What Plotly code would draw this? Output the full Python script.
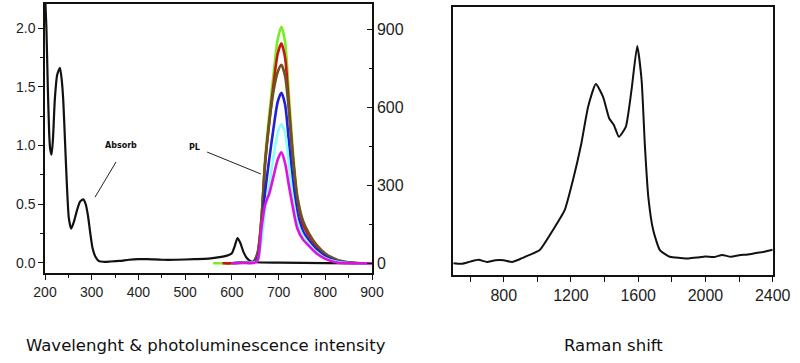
import plotly.graph_objects as go

# ---------------- data ----------------
abs_nm = [200, 203, 206, 209, 211, 214, 217, 221, 226, 232, 236, 239, 243, 247, 251, 256,
          262, 268, 275, 282, 287, 292, 297, 302, 308, 315, 325, 340, 360, 380, 400, 420,
          450, 480, 520, 550, 570, 590, 600, 606, 612, 618, 625, 632, 640, 650, 700, 800, 900]
abs_val = [2.3, 2.0, 1.5, 1.1, 0.97, 0.92, 1.05, 1.39, 1.6, 1.66, 1.55, 1.39, 1.02, 0.65, 0.38, 0.29,
           0.35, 0.44, 0.52, 0.54, 0.5, 0.4, 0.25, 0.12, 0.05, 0.015, 0.008, 0.01, 0.015, 0.025, 0.03, 0.03,
           0.025, 0.025, 0.03, 0.035, 0.045, 0.06, 0.08, 0.14, 0.21, 0.17, 0.09, 0.04, 0.012, 0.004, 0.0, -0.003, -0.005]

pl_nm = [560, 580, 600, 630, 645, 655, 663, 671, 680, 690, 698, 706, 714, 722, 730, 740,
         752, 765, 780, 800, 825, 850, 875, 900]
pl_green = [0, 0, 0, 5, 5, 40, 170, 400, 570, 740, 860, 910, 850, 650, 450, 260,
            160, 110, 70, 35, 12, 3, 0, 0]
pl_red = [None, 0, 0, 4, 4, 38, 160, 380, 545, 700, 805, 846, 790, 610, 420, 245,
          150, 105, 66, 33, 11, 3, 0, 0]
pl_brown = [None, None, 0, 4, 4, 36, 160, 380, 540, 670, 735, 763, 720, 590, 420, 258,
            165, 115, 74, 38, 14, 4, 0, 0]
pl_blue = [None, None, 0, 3, 3, 20, 110, 270, 400, 530, 620, 656, 610, 470, 320, 195,
           125, 88, 55, 27, 8, 2, 0, 0]
pl_cyan = [None, None, 0, 2, 2, 10, 80, 200, 300, 420, 500, 536, 500, 380, 260, 160,
           105, 75, 45, 20, 6, 1, 0, 0]
pl_magenta = [None, None, 0, 1, 1, 10, 130, 225, 268, 340, 398, 427, 385, 300, 220, 135,
              92, 67, 40, 17, 3, 0, 0, 0]

raman_x = [500, 550, 600, 650, 700, 750, 800, 850, 895, 950, 1014, 1093, 1163, 1212, 1262,
           1302, 1348, 1391, 1427, 1455, 1485, 1526, 1560, 1594, 1620, 1640, 1660, 1689,
           1729, 1788, 1850, 1900, 1950, 2000, 2050, 2100, 2150, 2200, 2250, 2300, 2350, 2400]
raman_y = [4.5, 4.3, 5.1, 5.8, 5.0, 5.6, 5.6, 5.0, 6.0, 7.5, 9.4, 16.9, 24.4, 35.6, 49.3,
           62.9, 71.4, 66.6, 58.6, 56.1, 51.7, 55.4, 69.1, 85.6, 72.9, 48.0, 29.3, 16.9,
           9.4, 6.9, 6.5, 6.3, 6.6, 7.0, 6.8, 7.6, 6.9, 7.5, 7.8, 8.3, 8.8, 9.5]

left_ticks = [200, 300, 400, 500, 600, 700, 800, 900]
abs_ticks = [0.0, 0.5, 1.0, 1.5, 2.0]
pl_ticks = [0, 300, 600, 900]
raman_ticks = [800, 1200, 1600, 2000, 2400]

pl_series = [
    ("green", pl_green, "#77ee22"),
    ("red", pl_red, "#c81414"),
    ("brown", pl_brown, "#6e5420"),
    ("blue", pl_blue, "#2020d8"),
    ("cyan", pl_cyan, "#88ffff"),
    ("magenta", pl_magenta, "#e010e0"),
]

# ---------------- figure ----------------
fig = go.Figure()

for name, vals, col in pl_series:
    fig.add_trace(go.Scatter(x=pl_nm, y=vals, mode="lines", name=name,
                             line=dict(color=col, width=2.6, shape="spline", smoothing=0.7),
                             xaxis="x", yaxis="y2", connectgaps=False))

fig.add_trace(go.Scatter(x=abs_nm, y=abs_val, mode="lines", name="Absorb",
                         line=dict(color="#111111", width=2.2, shape="spline", smoothing=0.6),
                         xaxis="x", yaxis="y"))

fig.add_trace(go.Scatter(x=raman_x, y=raman_y, mode="lines", name="Raman",
                         line=dict(color="#111111", width=2.0, shape="spline", smoothing=0.5),
                         xaxis="x3", yaxis="y3"))

tickfont = dict(family="Liberation Sans, Arial, sans-serif", size=14, color="#1e1e1e")
tickfont_r = dict(family="Liberation Sans, Arial, sans-serif", size=16, color="#1e1e1e")
H = 363.0

def py(p):
    return 1 - p / H

fig.update_layout(
    width=800, height=363,
    margin=dict(l=0, r=0, t=0, b=0, autoexpand=False),
    paper_bgcolor="white", plot_bgcolor="white",
    showlegend=False,
    xaxis=dict(domain=[45 / 800, 372 / 800], range=[200, 900], tickvals=left_ticks,
               ticks="outside", ticklen=5, tickwidth=1.3, tickcolor="#111",
               minor=dict(ticks="outside", ticklen=3, dtick=50, tickcolor="#111"),
               showline=True, linecolor="#111", linewidth=1.5, mirror=True,
               showgrid=False, zeroline=False, tickfont=tickfont, anchor="y",
               automargin=False),
    yaxis=dict(domain=[py(273), py(4)], range=[-0.0878, 2.2045], tickvals=abs_ticks,
               tickformat=".1f", ticks="outside", ticklen=5, tickwidth=1.3, tickcolor="#111",
               minor=dict(ticks="outside", ticklen=3, dtick=0.25, tickcolor="#111"),
               showline=True, linecolor="#111", linewidth=1.5, mirror=False,
               showgrid=False, zeroline=False, tickfont=tickfont, anchor="x",
               automargin=False),
    yaxis2=dict(overlaying="y", side="right", range=[-37.3, 997.3], tickvals=pl_ticks,
                ticks="inside", ticklen=5, tickwidth=1.3, tickcolor="#111",
                minor=dict(ticks="inside", ticklen=3, dtick=150, tickcolor="#111"),
                showline=True, linecolor="#111", linewidth=1.5,
                showgrid=False, zeroline=False, tickfont=tickfont_r, anchor="x",
                automargin=False),
    xaxis3=dict(domain=[453.3 / 800, 772.7 / 800], range=[500, 2400], tickvals=raman_ticks,
                ticks="outside", ticklen=5, tickwidth=1.3, tickcolor="#111",
                minor=dict(ticks="outside", ticklen=5, dtick=200, tickcolor="#111"),
                showline=True, linecolor="#111", linewidth=1.5, mirror=True,
                showgrid=False, zeroline=False, tickfont=tickfont_r, anchor="y3",
                automargin=False),
    yaxis3=dict(domain=[py(275.3), py(7.3)], range=[0, 100], showticklabels=False,
                ticks="", showline=True, linecolor="#111", linewidth=1.5, mirror=True,
                showgrid=False, zeroline=False, anchor="x3", automargin=False),
)

# pointer lines for the labels
fig.add_shape(type="line", xref="x", yref="y", x0=352, y0=0.858, x1=307, y1=0.558,
              line=dict(color="#222", width=1))
fig.add_shape(type="line", xref="x", yref="y", x0=547, y0=0.943, x1=662, y1=0.756,
              line=dict(color="#222", width=1))

labfont = dict(family="DejaVu Sans, Verdana, sans-serif", size=8, color="#111")
fig.add_annotation(x=363, y=0.995, xref="x", yref="y", text="<b>Absorb</b>",
                   showarrow=False, font=labfont, xanchor="center", yanchor="middle")
fig.add_annotation(x=519, y=0.978, xref="x", yref="y", text="<b>PL</b>",
                   showarrow=False, font=labfont, xanchor="center", yanchor="middle")

capfont = dict(family="DejaVu Sans, Verdana, sans-serif", size=16.5, color="#111")
fig.add_annotation(x=206 / 800, y=py(345), xref="paper", yref="paper",
                   text="Wavelenght &amp; photoluminescence intensity",
                   showarrow=False, font=capfont, xanchor="center", yanchor="middle")
fig.add_annotation(x=613 / 800, y=py(345), xref="paper", yref="paper",
                   text="Raman shift", showarrow=False, font=capfont,
                   xanchor="center", yanchor="middle")

fig.write_html("out.html", config={"displayModeBar": False})

# remove the default page margin so the figure sits at the window origin
with open("out.html", "r", encoding="utf-8") as fh:
    page = fh.read()
page = page.replace("<head>", "<head><style>html,body{margin:0;padding:0;overflow:hidden;}</style>", 1)
with open("out.html", "w", encoding="utf-8") as fh:
    fh.write(page)
